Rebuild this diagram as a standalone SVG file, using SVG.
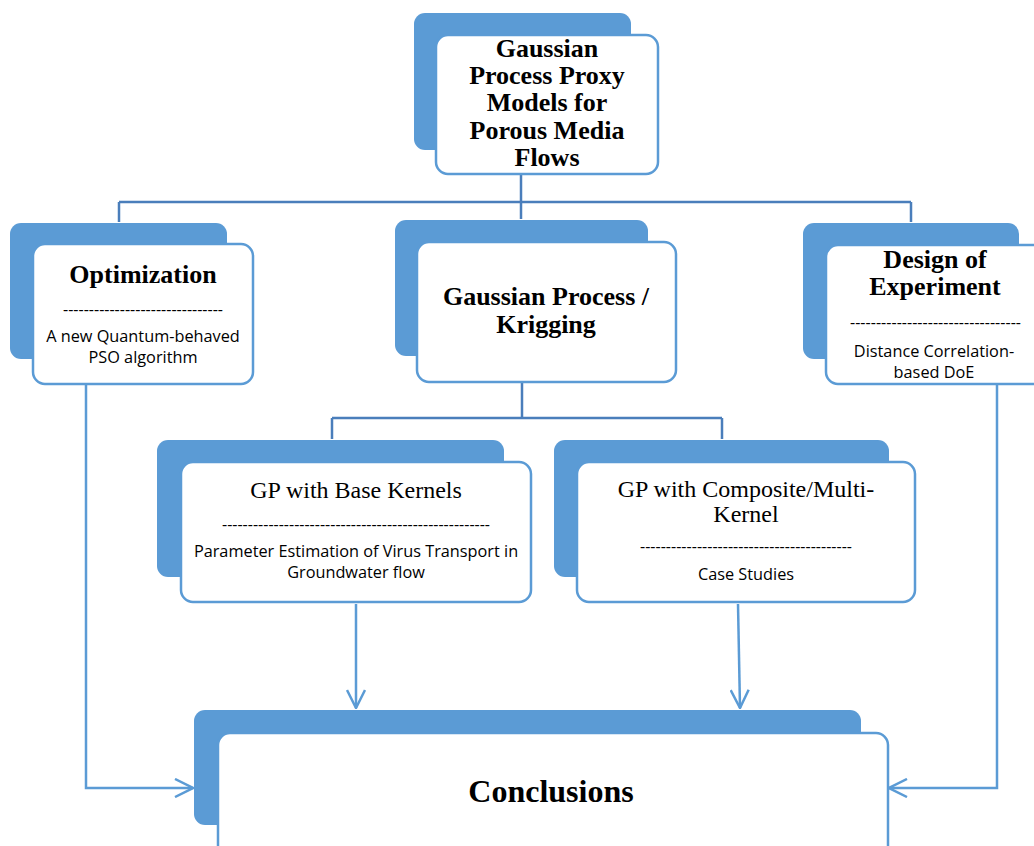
<svg xmlns="http://www.w3.org/2000/svg" width="1034" height="846" viewBox="0 0 1034 846">
<style>
.back{fill:#5B9BD5;}
.front{fill:#FFFFFF;stroke:#5B9BD5;stroke-width:2.5;}
.title{font-family:"Liberation Serif","Times New Roman",serif;font-weight:bold;font-size:26px;fill:#000;text-anchor:middle;}
.reg{font-family:"Liberation Serif","Times New Roman",serif;font-size:24px;fill:#000;text-anchor:middle;}
.sub{font-family:"Open Sans","Liberation Sans",sans-serif;font-size:16.3px;fill:#000;text-anchor:middle;}
.dash{font-family:"Open Sans","Liberation Sans",sans-serif;font-size:16px;fill:#000;}
.conn{fill:none;stroke:#4A7EBB;stroke-width:2.5;}
.arr{fill:none;stroke:#5B9BD5;stroke-width:2.5;}
</style>
<defs>
<marker id="ah" viewBox="0 0 20 20" refX="19" refY="10" markerWidth="20" markerHeight="20" markerUnits="userSpaceOnUse" orient="auto">
<path d="M1,1 L19,10 L1,19" fill="none" stroke="#5B9BD5" stroke-width="2.5"/>
</marker>
</defs>
<rect width="1034" height="846" fill="#FFFFFF"/>

<g id="connectors">
<path class="conn" d="M521,174 V219"/>
<path class="conn" d="M119,202 H911"/>
<path class="conn" d="M119,202 V222"/>
<path class="conn" d="M911,202 V222"/>
<path class="conn" d="M522,382 V418"/>
<path class="conn" d="M332,418 H722"/>
<path class="conn" d="M332,418 V439"/>
<path class="conn" d="M722,418 V439"/>
<path class="arr" d="M86,384 V788 H193" marker-end="url(#ah)"/>
<path class="arr" d="M997,384 V788 H889" marker-end="url(#ah)"/>
<path class="arr" d="M356,604 V708" marker-end="url(#ah)"/>
<path class="arr" d="M738,604 L740,708" marker-end="url(#ah)"/>
</g>

<g id="node-top">
<rect class="back" x="414" y="13" width="217" height="137" rx="11"/>
<rect class="front" x="436" y="35" width="222" height="139" rx="12"/>
<text class="title" x="547" y="57">Gaussian</text>
<text class="title" x="547" y="84">Process Proxy</text>
<text class="title" x="547" y="111">Models for</text>
<text class="title" x="547" y="139">Porous Media</text>
<text class="title" x="547" y="166">Flows</text>
</g>

<g id="node-optimization">
<rect class="back" x="10" y="223" width="217" height="136" rx="11"/>
<rect class="front" x="33" y="244" width="220" height="140" rx="12"/>
<text class="title" x="143" y="283">Optimization</text>
<text class="dash" x="63" y="315" textLength="160" lengthAdjust="spacing">-------------------------------</text>
<text class="sub" x="143" y="342">A new Quantum-behaved</text>
<text class="sub" x="143" y="363">PSO algorithm</text>
</g>

<g id="node-gp-kriging">
<rect class="back" x="395" y="220" width="253" height="136" rx="11"/>
<rect class="front" x="417" y="242" width="259" height="140" rx="12"/>
<text class="title" x="546" y="305">Gaussian Process /</text>
<text class="title" x="546" y="333">Krigging</text>
</g>

<g id="node-doe">
<rect class="back" x="803" y="223" width="216" height="136" rx="11"/>
<rect class="front" x="826" y="245" width="220" height="139" rx="12"/>
<text class="title" x="935" y="268">Design of</text>
<text class="title" x="935" y="295">Experiment</text>
<text class="dash" x="850" y="328" textLength="171" lengthAdjust="spacing">---------------------------------</text>
<text class="sub" x="934" y="357">Distance Correlation-</text>
<text class="sub" x="934" y="378">based DoE</text>
</g>

<g id="node-gp-base">
<rect class="back" x="157" y="440" width="347" height="137" rx="11"/>
<rect class="front" x="181" y="462" width="350" height="140" rx="12"/>
<text class="reg" x="356" y="498">GP with Base Kernels</text>
<text class="dash" x="222" y="530" textLength="268" lengthAdjust="spacing">----------------------------------------------------</text>
<text class="sub" x="356" y="557">Parameter Estimation of Virus Transport in</text>
<text class="sub" x="356" y="578">Groundwater flow</text>
</g>

<g id="node-gp-composite">
<rect class="back" x="554" y="440" width="335" height="137" rx="11"/>
<rect class="front" x="577" y="462" width="338" height="140" rx="12"/>
<text class="reg" x="746" y="497">GP with Composite/Multi-</text>
<text class="reg" x="746" y="522">Kernel</text>
<text class="dash" x="640" y="552" textLength="212" lengthAdjust="spacing">-----------------------------------------</text>
<text class="sub" x="746" y="580">Case Studies</text>
</g>

<g id="node-conclusions">
<rect class="back" x="194" y="710" width="667" height="115" rx="11"/>
<rect class="front" x="218" y="733" width="670" height="140" rx="12"/>
<text class="title" x="551" y="802" style="font-size:32px">Conclusions</text>
</g>
</svg>
